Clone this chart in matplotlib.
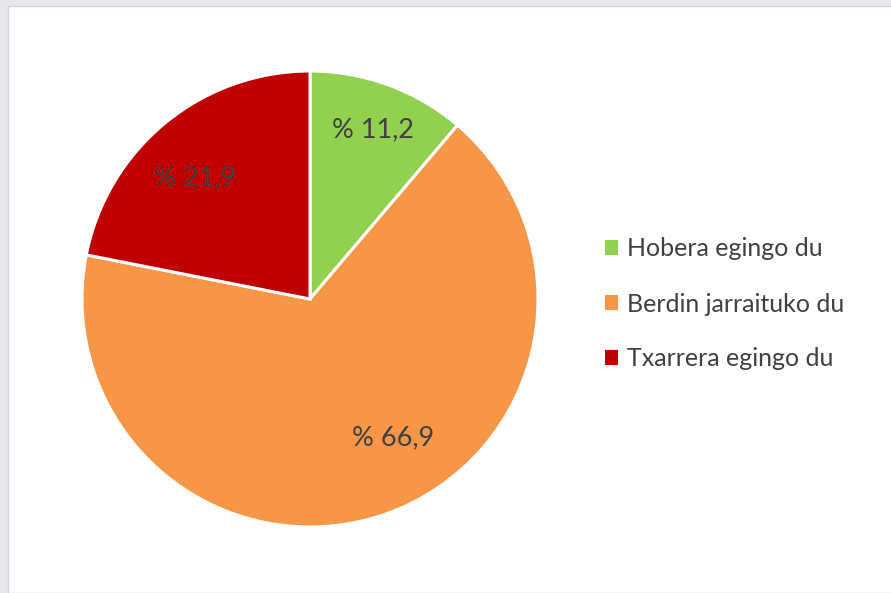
import matplotlib
matplotlib.use("Agg")
import matplotlib.pyplot as plt
from matplotlib.patches import Rectangle
import numpy as np

categories = ["Hobera egingo du", "Berdin jarraituko du", "Txarrera egingo du"]
values = [11.2, 66.9, 21.9]
colors = ["#92D050", "#F79646", "#C00000"]

plt.rcParams['font.family'] = ['Lato', 'DejaVu Sans']

fig = plt.figure(figsize=(8.91, 5.93), dpi=100)
fig.patch.set_facecolor("#e9e7eb")
# white slide area
fig.add_artist(Rectangle((8/891, 0), 1, 1 - 6/593, transform=fig.transFigure,
                         facecolor="white", edgecolor="#d4d4d6", linewidth=1.0, zorder=0))

ax = fig.add_axes([82/891, (593-527)/593, 456/891, 456/593])
wedges, texts, autotexts = ax.pie(
    values, colors=colors, startangle=90, counterclock=False,
    wedgeprops=dict(edgecolor="white", linewidth=2.2),
    autopct=lambda p: "% " + f"{p:.1f}".replace(".", ","),
    pctdistance=0.75,
    textprops=dict(color="#404040", fontsize=19.5),
    radius=1.0,
)
ax.set_xlim(-1, 1)
ax.set_ylim(-1, 1)
ax.set_aspect("equal")

# label placement (angle in degrees, distance from centre) as in the reference
label_pos = [(69.5, 0.79), (-58.9, 0.71), (133.5, 0.73)]
for t, (a, d) in zip(autotexts, label_pos):
    r = np.deg2rad(a)
    t.set_position((d * np.cos(r), d * np.sin(r)))

handles = [Rectangle((0, 0), 1, 1, facecolor=c, edgecolor="none") for c in colors]
leg = fig.legend(handles, categories, loc="center left",
                 bbox_to_anchor=(582/891, 1 - 304/593), frameon=False,
                 fontsize=18, labelcolor="#404040", handlelength=0.55, handleheight=0.55,
                 handletextpad=0.35, labelspacing=1.28)

fig.savefig("out.png", dpi=100, facecolor=fig.get_facecolor())
